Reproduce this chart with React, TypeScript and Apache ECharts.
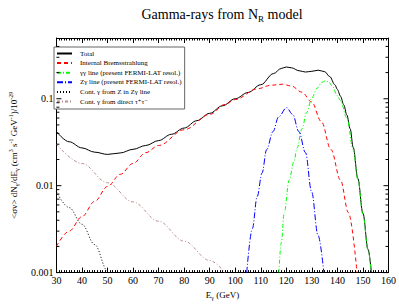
import React, { useEffect, useRef } from "react";
import * as echarts from "echarts";

const X_MIN = 30;
const X_MAX = 160;
const Y_MIN = 0.001;
const Y_MAX = 0.5;

const yMajorTicks = [0.001, 0.01, 0.1];
const yMinorTicks = [
  0.002, 0.003, 0.004, 0.005, 0.006, 0.007, 0.008, 0.009,
  0.02, 0.03, 0.04, 0.05, 0.06, 0.07, 0.08, 0.09,
  0.2, 0.3, 0.4,
];

const seriesNames = [
  "Total",
  "Internal Bremsstrahlung",
  "γγ line (present FERMI-LAT resol.)",
  "Zγ line (present FERMI-LAT resol.)",
  "Cont. γ from Z in Zγ line",
  "Cont. γ from direct τ⁺τ⁻",
];

const totalE = [30, 35, 40, 45, 50, 55, 60, 65, 70, 75, 80, 85, 90, 95, 100, 105, 110, 115, 118, 120, 122, 125, 127.5, 130, 132.5, 135, 137, 139, 140, 141.2, 142.5, 143.7, 145, 146.2, 148, 150, 152, 153.3];
const totalV = [0.042, 0.032, 0.0272, 0.0243, 0.0229, 0.0238, 0.0262, 0.029, 0.033, 0.039, 0.046, 0.056, 0.068, 0.083, 0.1, 0.118, 0.145, 0.195, 0.223, 0.232, 0.227, 0.21, 0.203, 0.207, 0.213, 0.205, 0.18, 0.145, 0.128, 0.107, 0.085, 0.065, 0.045, 0.0274, 0.0121, 0.0048, 0.00185, 0.001];

const bremE = [30, 35, 40, 45, 50, 55, 60, 65, 70, 80, 90, 96, 100, 108.6, 114, 118.6, 122, 126.1, 129.9, 133.7, 137.5, 141.2, 144.3, 147.7];
const bremV = [0.002, 0.003, 0.0044, 0.0066, 0.0098, 0.0135, 0.018, 0.024, 0.029, 0.044, 0.066, 0.086, 0.098, 0.13, 0.143, 0.147, 0.14, 0.119, 0.092, 0.0547, 0.026, 0.0116, 0.0049, 0.001];

const ggE = [117.1, 118, 119.2, 121.1, 123, 124.2, 126.1, 128, 129.9, 132, 134, 135.2, 136.5, 138, 140, 141.2, 143.7, 146.2, 148, 150, 152, 153.3];
const ggV = [0.001, 0.0022, 0.0049, 0.0116, 0.019, 0.027, 0.045, 0.07, 0.1, 0.132, 0.155, 0.161, 0.157, 0.14, 0.108, 0.095, 0.06, 0.026, 0.0118, 0.0047, 0.0018, 0.001];

const zgE = [104.5, 106.7, 108.6, 110.5, 112.3, 114.8, 117, 120.1, 122.5, 124.9, 127.5, 129.9, 132.4, 134.7];
const zgV = [0.001, 0.0032, 0.0075, 0.014, 0.026, 0.042, 0.062, 0.079, 0.066, 0.042, 0.024, 0.0085, 0.0027, 0.001];

const contZE = [30, 35, 40, 45, 50, 50.3];
const contZV = [0.0085, 0.0056, 0.0036, 0.0021, 0.00105, 0.001];

const tauE = [30, 40, 50, 60, 70, 80, 90, 96];
const tauV = [0.03, 0.018, 0.0108, 0.0065, 0.0039, 0.0023, 0.00138, 0.001];

const FONT = "'Liberation Serif', 'DejaVu Serif', serif";

function pairs(xs: number[], ys: number[]) {
  return xs.map((x, i) => [x, ys[i]]);
}

function isPow10(v: number) {
  const l = Math.log10(v);
  return Math.abs(l - Math.round(l)) < 1e-6;
}

export default function App() {
  const ref = useRef<HTMLDivElement>(null);
  useEffect(() => {
    if (!ref.current) return;
    const chart = echarts.init(ref.current, null, { renderer: "svg" });
    const lineSeries = (
      name: string,
      xs: number[],
      ys: number[],
      color: string,
      dash: any
    ) => ({
      name,
      type: "line",
      data: pairs(xs, ys),
      showSymbol: false,
      symbol: "none",
      smooth: 0.35,
      smoothMonotone: "x",
      lineStyle: { color, width: 1, type: dash },
      itemStyle: { color },
      xAxisIndex: 0,
      yAxisIndex: 0,
      z: 3,
    });
    const tickData = [
      ...yMajorTicks.map((v) => [X_MIN, v, 1]),
      ...yMinorTicks.map((v) => [X_MIN, v, 0]),
    ];
    const option: any = {
      animation: false,
      backgroundColor: "#fff",
      title: {
        text: "Gamma-rays from N{sub|R} model",
        left: 217,
        top: 1,
        textAlign: "center",
        textStyle: {
          fontFamily: FONT,
          fontSize: 14,
          fontWeight: "normal",
          color: "#000",
          rich: {
            sub: { fontFamily: FONT, fontSize: 9, verticalAlign: "bottom", padding: [8, 0, 0, 0], color: "#000" },
          },
        },
      },
      grid: { left: 44, right: 9, top: 38, bottom: 28, show: false },
      legend: {
        data: seriesNames,
        orient: "vertical",
        left: 54,
        top: 47,
        itemWidth: 15,
        itemHeight: 7,
        itemGap: 2.6,
        padding: [3, 3, 4, 2],
        borderColor: "#666",
        borderWidth: 1,
        backgroundColor: "#fff",
        itemStyle: { opacity: 0 },
        textStyle: { fontFamily: FONT, fontSize: 7, color: "#000", padding: [0, 0, 0, 3] },
      },
      xAxis: [
        {
          type: "value",
          min: X_MIN,
          max: X_MAX,
          interval: 10,
          position: "bottom",
          name: "E{sub|γ} (GeV)",
          nameLocation: "middle",
          nameGap: 14,
          nameTextStyle: {
            fontFamily: FONT,
            fontSize: 9,
            color: "#000",
            rich: { sub: { fontFamily: FONT, fontSize: 6, verticalAlign: "bottom", padding: [6, 0, 0, 0] } },
          },
          axisLine: { lineStyle: { color: "#000", width: 1 } },
          axisTick: { inside: true, length: 5, lineStyle: { color: "#000" } },
          minorTick: { show: true, splitNumber: 10, length: 2.5, lineStyle: { color: "#000" } },
          axisLabel: { fontFamily: FONT, fontSize: 10, color: "#000", margin: 3 },
          splitLine: { show: false },
        },
        {
          type: "value",
          min: X_MIN,
          max: X_MAX,
          interval: 10,
          position: "top",
          axisLine: { lineStyle: { color: "#000", width: 1 } },
          axisTick: { inside: true, length: 5, lineStyle: { color: "#000" } },
          minorTick: { show: true, splitNumber: 10, length: 2.5, lineStyle: { color: "#000" } },
          axisLabel: { show: false },
          splitLine: { show: false },
        },
      ],
      yAxis: [
        {
          type: "log",
          logBase: 10,
          min: Y_MIN,
          max: Y_MAX,
          position: "left",
          name: "<σv> dN{sub|γ}/dE{sub|γ} (cm{sup|3} s{sup|-1} GeV{sup|-1})/10{sup|-29}",
          nameLocation: "middle",
          nameGap: 28,
          nameTextStyle: {
            fontFamily: FONT,
            fontSize: 9,
            color: "#000",
            rich: {
              sub: { fontFamily: FONT, fontSize: 6, verticalAlign: "bottom", padding: [6, 0, 0, 0] },
              sup: { fontFamily: FONT, fontSize: 6, verticalAlign: "top", padding: [0, 0, 6, 0] },
            },
          },
          axisLine: { lineStyle: { color: "#000", width: 1 } },
          axisTick: { show: false },
          axisLabel: {
            fontFamily: FONT,
            fontSize: 10,
            color: "#000",
            margin: 3,
            formatter: (v: number) => (isPow10(v) ? String(Number(v.toPrecision(3))) : ""),
          },
          splitLine: { show: false },
        },
        {
          type: "log",
          logBase: 10,
          min: Y_MIN,
          max: Y_MAX,
          position: "right",
          axisLine: { lineStyle: { color: "#000", width: 1 } },
          axisTick: { show: false },
          axisLabel: { show: false },
          splitLine: { show: false },
        },
      ],
      series: [
        lineSeries(seriesNames[0], totalE, totalV, "#000000", "solid"),
        lineSeries(seriesNames[1], bremE, bremV, "#ff0000", [4, 3]),
        lineSeries(seriesNames[2], ggE, ggV, "#00ff00", [4, 2, 1, 2]),
        lineSeries(seriesNames[3], zgE, zgV, "#0000ff", [6, 2, 1, 2]),
        lineSeries(seriesNames[4], contZE, contZV, "#000000", [1, 2]),
        lineSeries(seriesNames[5], tauE, tauV, "#bc8f8f", [3, 2, 1, 2]),
        {
          type: "custom",
          name: "yticks",
          xAxisIndex: 0,
          yAxisIndex: 0,
          data: tickData,
          encode: { x: 0, y: 1 },
          silent: true,
          clip: false,
          z: 5,
          renderItem: (_params: any, api: any) => {
            const v = api.value(1);
            const pl = api.coord([X_MIN, v]);
            const pr = api.coord([X_MAX, v]);
            const len = api.value(2) ? 5 : 3;
            const st = { stroke: "#000", lineWidth: 1 };
            return {
              type: "group",
              children: [
                { type: "line", shape: { x1: pl[0], y1: pl[1], x2: pl[0] + len, y2: pl[1] }, style: st },
                { type: "line", shape: { x1: pr[0], y1: pr[1], x2: pr[0] - len, y2: pr[1] }, style: st },
              ],
            };
          },
        },
      ],
    };
    chart.setOption(option);
    return () => chart.dispose();
  }, []);
  return (
    <div
      ref={ref}
      style={{ width: 399, height: 306, position: "fixed", left: 0, top: 0 }}
    />
  );
}
